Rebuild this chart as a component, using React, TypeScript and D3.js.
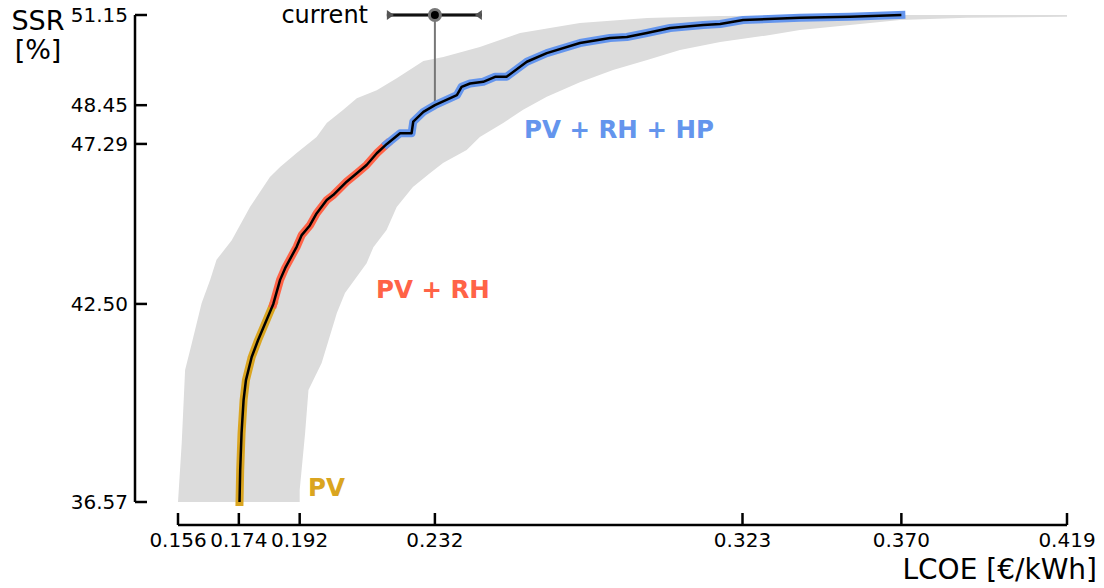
import React from 'react';
import * as d3 from 'd3';

// pareto front, split by technology mix
const pvLcoe = [0.1742, 0.1744, 0.1748, 0.1754, 0.1761, 0.1778, 0.1797, 0.1822, 0.1842];
const pvSsr = [36.57, 37.53, 38.63, 39.62, 40.22, 40.91, 41.42, 42.02, 42.50];

const rhLcoe = [0.1842, 0.1862, 0.1877, 0.1911, 0.1926, 0.1950, 0.1970, 0.2000, 0.2019, 0.2059, 0.2089, 0.2118, 0.2148, 0.2178];
const rhSsr = [42.50, 43.22, 43.57, 44.21, 44.56, 44.85, 45.21, 45.61, 45.76, 46.16, 46.41, 46.66, 47.01, 47.29];

const hpLcoe = [0.2178, 0.2217, 0.2251, 0.2256, 0.2286, 0.2320, 0.2385, 0.2399, 0.2424, 0.2463, 0.2498, 0.2532, 0.2592, 0.2651, 0.2749, 0.2838, 0.2888, 0.2947, 0.3016, 0.3114, 0.3164, 0.3232, 0.3400, 0.3548, 0.3700];
const hpSsr = [47.29, 47.61, 47.61, 47.96, 48.25, 48.45, 48.75, 49.00, 49.10, 49.15, 49.30, 49.30, 49.75, 50.01, 50.31, 50.46, 50.49, 50.61, 50.76, 50.85, 50.88, 51.00, 51.07, 51.10, 51.15];

// uncertainty band: left (cheap) edge and right (expensive) edge
const bandLeftLcoe = [0.156, 0.1571, 0.1581, 0.1601, 0.1630, 0.1655, 0.1674, 0.1719, 0.1773, 0.1832, 0.1862, 0.1911, 0.1970, 0.2000, 0.2049, 0.2089, 0.2148, 0.2207, 0.2286, 0.2345, 0.2453, 0.2572, 0.2749, 0.2948, 0.3164, 0.3696, 0.419];
const bandLeftSsr = [36.57, 38.34, 40.52, 41.33, 42.53, 43.22, 43.82, 44.41, 45.40, 46.30, 46.60, 47.02, 47.50, 47.92, 48.31, 48.66, 48.90, 49.26, 49.77, 49.89, 50.19, 50.61, 50.91, 51.06, 51.12, 51.15, 51.15];

const bandRightLcoe = [0.192, 0.192, 0.1936, 0.1946, 0.1985, 0.2030, 0.2054, 0.2118, 0.2138, 0.2177, 0.2207, 0.2255, 0.2306, 0.2344, 0.2414, 0.2453, 0.2522, 0.2581, 0.2651, 0.2749, 0.2847, 0.2948, 0.3045, 0.3164, 0.3311, 0.3400, 0.3548, 0.3696, 0.3894, 0.419];
const bandRightSsr = [36.57, 36.93, 38.63, 39.92, 40.73, 42.23, 42.83, 43.72, 44.20, 44.71, 45.40, 46.00, 46.42, 46.72, 47.11, 47.50, 47.92, 48.31, 48.70, 49.14, 49.50, 49.80, 50.10, 50.34, 50.55, 50.70, 50.85, 51.00, 51.07, 51.10];

const currentLcoe = 0.232;
const currentSsr = 51.15;
const currentRange = [0.2178, 0.2459];
const currentOnFront = 48.45;

const xTicks = [0.156, 0.174, 0.192, 0.232, 0.323, 0.370, 0.419];
const yTicks = [36.57, 42.50, 47.29, 48.45, 51.15];

const segments = [
  { name: 'PV', lcoe: pvLcoe, ssr: pvSsr, color: '#DAA520', lx: 308, ly: 496 },
  { name: 'PV + RH', lcoe: rhLcoe, ssr: rhSsr, color: '#FF6347', lx: 376, ly: 298 },
  { name: 'PV + RH + HP', lcoe: hpLcoe, ssr: hpSsr, color: '#6495ED', lx: 524, ly: 138 },
];

const W = 1104;
const H = 588;
const font = '"DejaVu Sans", sans-serif';

export default function App() {
  const x = d3.scaleLinear().domain([0.156, 0.419]).range([178, 1067]);
  const y = d3.scaleLinear().domain([36.57, 51.15]).range([502, 15]);
  const line = d3.line<[number, number]>().x(d => x(d[0])).y(d => y(d[1]));

  const toPts = (a: number[], b: number[]) => a.map((v, i) => [v, b[i]] as [number, number]);
  const band = [...toPts(bandLeftLcoe, bandLeftSsr), ...toPts(bandRightLcoe, bandRightSsr).reverse()];
  const front = [...toPts(pvLcoe, pvSsr), ...toPts(rhLcoe, rhSsr).slice(1), ...toPts(hpLcoe, hpSsr).slice(1)];

  const axisY = 525;
  const axisX = 135;
  const cx = x(currentLcoe);
  const cy = y(currentSsr);
  const x0 = x(currentRange[0]);
  const x1 = x(currentRange[1]);

  return (
    <svg width={W} height={H} style={{ position: 'absolute', left: 0, top: 0, background: '#fff' }} fontFamily={font}>
      <path d={line(band) + 'Z'} fill="#dcdcdc" />

      <line x1={cx} x2={cx} y1={cy} y2={y(currentOnFront)} stroke="#777" strokeWidth={2} />

      {segments.map(s => (
        <path key={s.name} d={line(toPts(s.lcoe, s.ssr)) || ''} fill="none" stroke={s.color} strokeWidth={8} strokeLinecap="square" strokeLinejoin="round" />
      ))}
      <path d={line(front) || ''} fill="none" stroke="#000" strokeWidth={2.5} strokeLinejoin="round" />

      {/* current system with range */}
      <line x1={x0} x2={x1} y1={cy} y2={cy} stroke="#777" strokeWidth={4} />
      <line x1={x0} x2={x1} y1={cy} y2={cy} stroke="#111" strokeWidth={2} />
      <path d={`M${x0},${cy - 5}L${x0 + 7},${cy}L${x0},${cy + 5}Z`} fill="#555" />
      <path d={`M${x1},${cy - 5}L${x1 - 7},${cy}L${x1},${cy + 5}Z`} fill="#555" />
      <circle cx={cx} cy={cy} r={5.5} fill="#000" stroke="#777" strokeWidth={3} />
      <text x={368} y={23} fontSize={24} textAnchor="end">current</text>

      {segments.map(s => (
        <text key={s.name + 'l'} x={s.lx} y={s.ly} fontSize={24.5} fontWeight="bold" fill={s.color}>{s.name}</text>
      ))}

      {/* left axis */}
      <line x1={axisX} x2={axisX} y1={y(yTicks[yTicks.length - 1])} y2={y(yTicks[0])} stroke="#000" strokeWidth={2.5} />
      {yTicks.map(t => (
        <g key={t} transform={`translate(0,${y(t)})`}>
          <line x1={axisX} x2={axisX + 12} stroke="#000" strokeWidth={2.5} />
          <text x={axisX - 7} dy="0.35em" fontSize={20} textAnchor="end">{t.toFixed(2)}</text>
        </g>
      ))}
      <text x={38} y={30} fontSize={27} textAnchor="middle">SSR</text>
      <text x={38} y={59} fontSize={27} textAnchor="middle">[%]</text>

      {/* bottom axis */}
      <line x1={x(xTicks[0])} x2={x(xTicks[xTicks.length - 1])} y1={axisY} y2={axisY} stroke="#000" strokeWidth={2.5} />
      {xTicks.map(t => (
        <g key={t} transform={`translate(${x(t)},0)`}>
          <line y1={axisY} y2={axisY - 12} stroke="#000" strokeWidth={2.5} />
          <text y={547} fontSize={20} textAnchor="middle">{t.toFixed(3)}</text>
        </g>
      ))}
      <text x={1097} y={579} fontSize={28} textAnchor="end">LCOE [€/kWh]</text>
    </svg>
  );
}
